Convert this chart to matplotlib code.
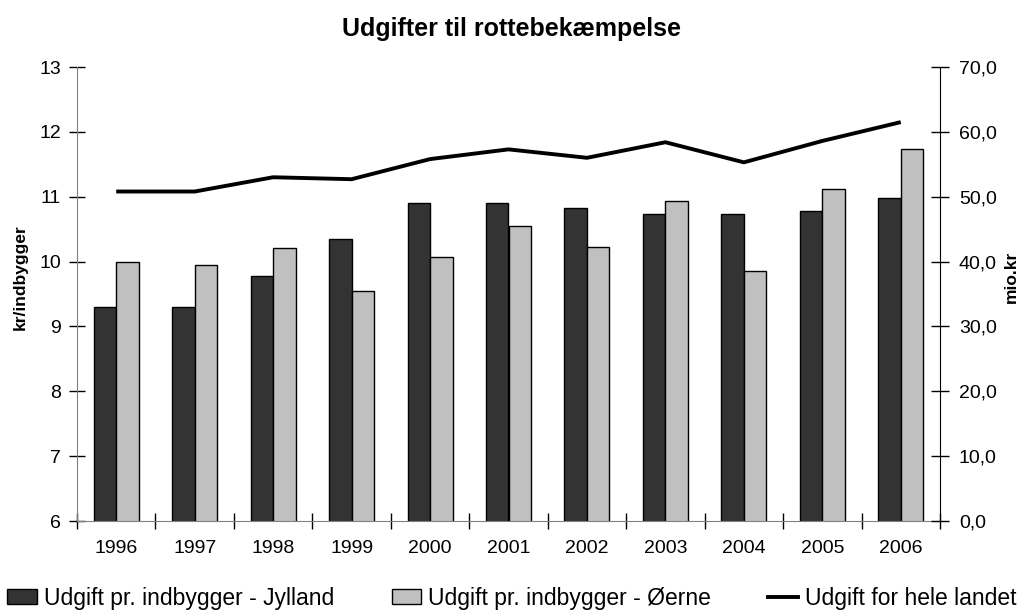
import matplotlib
matplotlib.use("Agg")
import matplotlib.pyplot as plt
import numpy as np
from matplotlib.ticker import FuncFormatter, FixedLocator
from matplotlib.patches import Patch
from matplotlib.lines import Line2D

years = ["1996", "1997", "1998", "1999", "2000", "2001", "2002", "2003", "2004", "2005", "2006"]
jylland = [9.30, 9.30, 9.78, 10.35, 10.90, 10.90, 10.82, 10.73, 10.73, 10.78, 10.98]
oerne = [10.00, 9.94, 10.21, 9.55, 10.07, 10.55, 10.23, 10.93, 9.85, 11.12, 11.74]
landet = [50.8, 50.8, 53.0, 52.7, 55.8, 57.3, 56.0, 58.4, 55.3, 58.6, 61.5]

plt.rcParams['font.family'] = ['Liberation Sans', 'DejaVu Sans']

fig = plt.figure(figsize=(10.24, 6.16), dpi=100)
ax = fig.add_axes([77/1024, 1 - 521/616, (940-77)/1024, (521-67)/616])
ax2 = ax.twinx()

x = np.arange(len(years))
w = 0.287
ax.bar(x - w/2, jylland, width=w, color='#333333', edgecolor='black', linewidth=1.0, zorder=2)
ax.bar(x + w/2, oerne, width=w, color='#C0C0C0', edgecolor='black', linewidth=1.0, zorder=2)
ax2.plot(x, landet, color='black', linewidth=2.8, solid_capstyle='butt', zorder=3)

ax.set_xlim(-0.5, len(years) - 0.5)
ax.set_ylim(6, 13)
ax2.set_ylim(0, 70)
ax.set_yticks(range(6, 14))
ax2.set_yticks(range(0, 71, 10))
ax2.yaxis.set_major_formatter(FuncFormatter(lambda v, p: f"{v:.1f}".replace('.', ',')))

ax.set_xticks(x)
ax.set_xticklabels(years)
ax.xaxis.set_minor_locator(FixedLocator(np.arange(-0.5, len(years), 1.0)))
ax.tick_params(axis='x', which='major', length=0, labelsize=14, pad=14)
ax.tick_params(axis='x', which='minor', length=12, direction='inout', color='#000000', width=1)
ax.tick_params(axis='y', length=11, direction='inout', color='#000000', labelsize=14, pad=6, width=1)
ax2.tick_params(axis='y', length=13, direction='inout', color='#000000', labelsize=14, pad=7, width=1)

for s in ['top', 'right']:
    ax.spines[s].set_visible(False)
for s in ['top', 'left', 'bottom']:
    ax2.spines[s].set_visible(False)
ax.spines['left'].set_color('#808080')
ax.spines['bottom'].set_color('#808080')
ax2.spines['right'].set_color('black')

ax.set_ylabel('kr/indbygger', fontsize=12.5, fontweight='bold', labelpad=8)
ax2.set_ylabel('mio.kr', fontsize=12.5, fontweight='bold', labelpad=5)
ax.yaxis.label.set_y(0.537)
ax2.yaxis.label.set_y(0.537)

fig.text(0.5, 1 - 29/616, 'Udgifter til rottebekæmpelse', ha='center', va='center',
         fontsize=18, fontweight='bold')

handles = [Patch(facecolor='#333333', edgecolor='black'),
           Patch(facecolor='#C0C0C0', edgecolor='black'),
           Line2D([0], [0], color='black', linewidth=2.8)]
labels = ['Udgift pr. indbygger - Jylland', 'Udgift pr. indbygger - Øerne', 'Udgift for hele landet']
fig.legend(handles, labels, loc='center', bbox_to_anchor=(0.5, 1 - 598/616), ncol=3,
           frameon=False, fontsize=16.5, handlelength=1.3, handleheight=0.6,
           handletextpad=0.3, columnspacing=2.5, borderaxespad=0)

fig.savefig('out.png', dpi=100)
